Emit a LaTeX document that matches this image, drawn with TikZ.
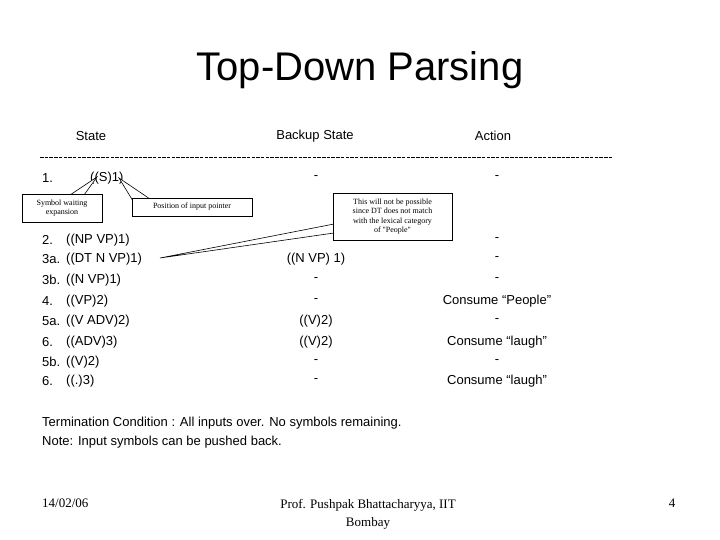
\documentclass[tikz,border=0pt]{standalone}
\usepackage{fontspec}
\setmainfont{Liberation Sans}
\newfontfamily\serif{Liberation Serif}
\begin{document}
\begin{tikzpicture}[x=1pt,y=-1pt,
  txt/.style={font=\fontsize{13}{15}\selectfont,inner sep=0pt},
  lt/.style={txt,anchor=west},
  ct/.style={txt,anchor=center},
  call/.style={draw,fill=white,line width=0.6pt},
  ctext/.style={font=\serif\fontsize{8}{9.5}\selectfont,align=center,inner sep=0pt}]
\useasboundingbox (0,0) rectangle (720,540);
\node[font=\fontsize{40}{44}\selectfont,inner sep=0pt] (title) at (360,70) {Top-Down Parsing};
\node[ct] (h1) at (91,136) {State};
\node[ct] (h2) at (315,136) {Backup State};
\node[ct] (h3) at (493,136) {Action};
\draw[line width=0.6pt,dash pattern=on 3.5pt off 1.2pt] (40,157) -- (612,157);
% rows
\node[lt] (r1) at (42,178) {1.};
\node[lt] (r1s) at (90,178) {((S)1)};
\node[ct] (b1) at (316,178) {-};
\node[ct] (a1) at (497,178) {-};
\foreach \n/\lab/\st/\bk/\ac/\y in {
 2/2./((NP VP)1)//-/240,
 3/3a./((DT N VP)1)/((N VP) 1)/-/259,
 4/3b./((N VP)1)/-/-/280,
 5/4./((VP)2)/-/Consume ``People''/301,
 6/5a./((V ADV)2)/((V)2)/-/321,
 7/6./((ADV)3)/((V)2)/Consume ``laugh''/342,
 8/5b./((V)2)/-/-/362,
 9/6./((.)3)/-/Consume ``laugh''/381}{
 \node[lt] (n\n) at (42,\y) {\lab};
 \node[lt] (s\n) at (66,\y) {\st};
 \node[ct] (bk\n) at (316,\y) {\bk};
 \node[ct] (ac\n) at (497,\y) {\ac};
}
% callouts
\coordinate (p1) at (97,177);
\coordinate (p2) at (119,178);
\coordinate (p3) at (160,258);
\draw[call] (70,195) -- (p1) -- (84,195) -- cycle;
\draw[call] (133,201) -- (p2) -- (150,199) -- cycle;
\draw[call] (334,224) -- (p3) -- (334,233) -- cycle;
\node[call,minimum width=80,minimum height=28,inner sep=0pt] (c1) at (62,208) {};
\node[ctext] at (c1) {Symbol waiting\\expansion};
\node[call,minimum width=120,minimum height=18,inner sep=0pt] (c2) at (192,207) {};
\node[ctext] at (c2) {Position of input pointer};
\node[call,minimum width=119,minimum height=47,inner sep=0pt] (c3) at (392.5,216.5) {};
\node[ctext] at (c3) {This will not be possible\\since DT does not match\\with the lexical category\\of "People"};
\node[lt] (t1) at (42,423) {Termination Condition : All inputs over. No symbols remaining.};
\node[lt] (t2) at (42,442) {Note: Input symbols can be pushed back.};
\node[lt,font=\serif\fontsize{13}{15}\selectfont] (f1) at (42,503) {14/02/06};
\node[ct,font=\serif\fontsize{13}{18}\selectfont,align=center] (f2) at (368,514) {Prof. Pushpak Bhattacharyya, IIT\\Bombay};
\node[ct,font=\serif\fontsize{13}{15}\selectfont] (f3) at (672,503) {4};
\end{tikzpicture}
\end{document}
